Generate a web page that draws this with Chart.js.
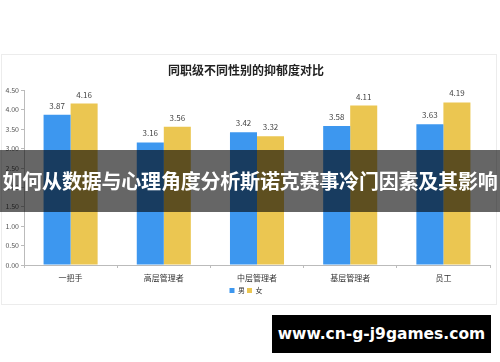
<!DOCTYPE html>
<html>
<head>
<meta charset="utf-8">
<script src="https://cdn.jsdelivr.net/npm/chart.js@4/dist/chart.umd.min.js"></script>
<style>
  html, body { margin: 0; padding: 0; background: #fff; }
  body { width: 500px; height: 362px; position: relative; overflow: hidden; font-family: "Noto Sans CJK SC", "Noto Sans", sans-serif; }
  #card { position: absolute; left: 1px; top: 54px; width: 496px; height: 251px; border: 1px solid #ececec; box-sizing: border-box; }
  #banner { position: absolute; left: 0; top: 150px; width: 500px; height: 62px; background: rgba(0, 0, 0, 0.6);
    color: #fff; font-weight: bold; font-size: 20px; line-height: 62px; text-align: center; white-space: nowrap; letter-spacing: -0.2px; }
  #mark { position: absolute; left: 272px; top: 315px; width: 219px; height: 38px; background: #000; color: #fff;
    font-family: "DejaVu Sans", sans-serif; font-weight: bold; font-size: 15.5px; line-height: 38px; text-align: center; white-space: nowrap; }
</style>
</head>
<body>
<div id="card"><canvas id="chart"></canvas></div>
<div id="banner">如何从数据与心理角度分析斯诺克赛事冷门因素及其影响</div>
<div id="mark">www.cn-g-j9games.com</div>
<script>
const TITLE = "同职级不同性别的抑郁度对比";
const CATEGORIES = ["一把手", "高层管理者", "中层管理者", "基层管理者", "员工"];
const MALE = [3.87, 3.16, 3.42, 3.58, 3.63];
const FEMALE = [4.16, 3.56, 3.32, 4.11, 4.19];
const SERIES_NAMES = ["男", "女"];
const Y_MAX = 4.5;
const Y_STEP = 0.5;

const FONT = "'Noto Sans CJK SC', 'Noto Sans', sans-serif";

// value labels above each bar
const valueLabels = {
  id: "valueLabels",
  afterDatasetsDraw(chart) {
    const ctx = chart.ctx;
    ctx.save();
    ctx.font = "8px " + FONT;
    ctx.fillStyle = "#444";
    ctx.textAlign = "center";
    ctx.textBaseline = "bottom";
    chart.data.datasets.forEach((ds, i) => {
      chart.getDatasetMeta(i).data.forEach((bar, j) => {
        ctx.fillText(ds.data[j].toFixed(2), bar.x, bar.y - 5);
      });
    });
    ctx.restore();
  },
};

new Chart(document.getElementById("chart"), {
  type: "bar",
  data: {
    labels: CATEGORIES,
    datasets: [
      { label: SERIES_NAMES[0], data: MALE, backgroundColor: "#3d97ef" },
      { label: SERIES_NAMES[1], data: FEMALE, backgroundColor: "#ebc651" },
    ],
  },
  options: {
    responsive: true,
    maintainAspectRatio: false,
    animation: false,
    categoryPercentage: 0.58,
    barPercentage: 1.0,
    layout: { padding: { left: 0, right: 6, top: 0, bottom: 0 } },
    plugins: {
      title: {
        display: true,
        text: TITLE,
        color: "#222",
        font: { family: FONT, size: 12, weight: "bold" },
        padding: { top: 8, bottom: 13 },
      },
      legend: {
        position: "bottom",
        labels: {
          boxWidth: 5,
          boxHeight: 5,
          padding: 2,
          color: "#333",
          font: { family: FONT, size: 7 },
        },
      },
      tooltip: { enabled: false },
    },
    scales: {
      x: {
        grid: { display: true, drawOnChartArea: false, offset: true, tickLength: 3, color: "#bbb" },
        border: { color: "#bbb" },
        ticks: { color: "#333", font: { family: FONT, size: 8 }, padding: 5 },
        afterFit: (scale) => { scale.height = 20; },
      },
      y: {
        min: 0,
        max: Y_MAX,
        grid: { display: true, drawOnChartArea: false, tickLength: 3, color: "#bbb" },
        border: { color: "#bbb" },
        ticks: {
          stepSize: Y_STEP,
          color: "#555",
          font: { family: FONT, size: 7 },
          padding: 2,
          callback: (v) => v.toFixed(2),
        },
        afterFit: (scale) => { scale.width = 22; },
      },
    },
  },
  plugins: [valueLabels],
});
</script>
</body>
</html>
